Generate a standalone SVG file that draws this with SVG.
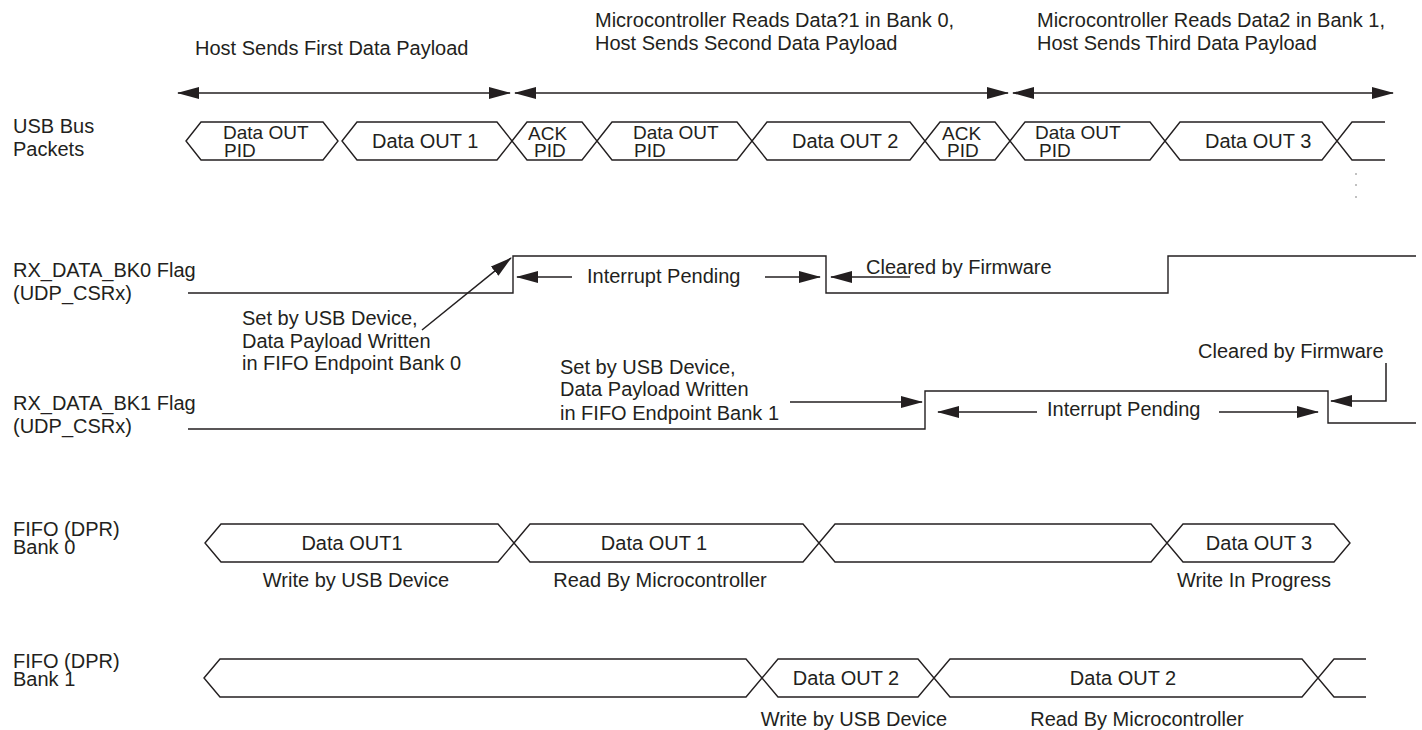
<svg xmlns="http://www.w3.org/2000/svg" width="1422" height="730" viewBox="0 0 1422 730">
<defs>
<style>
text{font-family:"Liberation Sans",Arial,Helvetica,sans-serif;font-size:20px;fill:#231f20}
.s{font-size:19px}
.m{text-anchor:middle}
.bus polygon,.bus polyline,.sig{fill:none;stroke:#231f20;stroke-width:1.4;stroke-linejoin:miter}
.arr{fill:none;stroke:#231f20;stroke-width:1.5}
</style>
<marker id="ah" markerUnits="userSpaceOnUse" markerWidth="22" markerHeight="14" refX="21" refY="7" orient="auto-start-reverse">
<path d="M0,1 L22,7 L0,13 z" fill="#231f20"/>
</marker>
</defs>
<rect width="1422" height="730" fill="#fff"/>

<g id="header">
<text x="195" y="55">Host Sends First Data Payload</text>
<text x="595" y="27">Microcontroller Reads Data?1 in Bank 0,</text>
<text x="595" y="50">Host Sends Second Data Payload</text>
<text x="1037" y="27">Microcontroller Reads Data2 in Bank 1,</text>
<text x="1037" y="50">Host Sends Third Data Payload</text>
</g>

<g id="labels">
<text x="13" y="133">USB Bus</text>
<text x="13" y="156">Packets</text>
<text x="13" y="277">RX_DATA_BK0 Flag</text>
<text x="13" y="300">(UDP_CSRx)</text>
<text x="13" y="410">RX_DATA_BK1 Flag</text>
<text x="13" y="433">(UDP_CSRx)</text>
<text x="13" y="536">FIFO (DPR)</text>
<text x="13" y="554">Bank 0</text>
<text x="13" y="668">FIFO (DPR)</text>
<text x="13" y="686">Bank 1</text>
</g>

<g id="usb-bus" class="bus">
<polygon points="186,141 201,122 323,122 338,141 323,160 201,160"/>
<polygon points="342,141 357,122 497,122 512,141 497,160 357,160"/>
<polygon points="512,141 527,122 582,122 597,141 582,160 527,160"/>
<polygon points="597,141 612,122 737,122 752,141 737,160 612,160"/>
<polygon points="752,141 767,122 910,122 925,141 910,160 767,160"/>
<polygon points="925,141 940,122 995,122 1010,141 995,160 940,160"/>
<polygon points="1010,141 1025,122 1150,122 1165,141 1150,160 1025,160"/>
<polygon points="1165,141 1180,122 1322,122 1337,141 1322,160 1180,160"/>
<polyline points="1385,122 1352,122 1337,141 1352,160 1385,160"/>
<text class="s" x="223" y="139">Data OUT</text>
<text class="s" x="224" y="157">PID</text>
<text x="372" y="148">Data OUT 1</text>
<text class="s" x="528" y="140">ACK</text>
<text class="s" x="534" y="157">PID</text>
<text class="s" x="633" y="139">Data OUT</text>
<text class="s" x="634" y="157">PID</text>
<text x="792" y="148">Data OUT 2</text>
<text class="s" x="942" y="140">ACK</text>
<text class="s" x="947" y="157">PID</text>
<text class="s" x="1035" y="139">Data OUT</text>
<text class="s" x="1039" y="157">PID</text>
<text x="1205" y="148">Data OUT 3</text>
<circle cx="1356" cy="174" r="0.7" fill="#555"/>
<circle cx="1356" cy="185" r="0.7" fill="#555"/>
<circle cx="1356" cy="197" r="0.7" fill="#555"/>
</g>

<g id="rx-data-bk0">
<path class="sig" d="M188,293 H513 V256 H826 V293 H1168 V256 H1416"/>
<text x="587" y="283">Interrupt Pending</text>
<text x="866" y="274">Cleared by Firmware</text>
<text x="242" y="325">Set by USB Device,</text>
<text x="242" y="348">Data Payload Written</text>
<text x="242" y="370">in FIFO Endpoint Bank 0</text>
</g>

<g id="rx-data-bk1">
<path class="sig" d="M188,429 H925 V391 H1328 V423 H1416"/>
<text x="560" y="374">Set by USB Device,</text>
<text x="560" y="396">Data Payload Written</text>
<text x="560" y="420">in FIFO Endpoint Bank 1</text>
<text x="1047" y="416">Interrupt Pending</text>
<text x="1198" y="358">Cleared by Firmware</text>
</g>

<g id="fifo-bank0" class="bus">
<polygon points="205,543 221,524 498,524 514,543 498,562 221,562"/>
<polygon points="514,543 530,524 803,524 819,543 803,562 530,562"/>
<polygon points="819,543 835,524 1151,524 1167,543 1151,562 835,562"/>
<polygon points="1167,543 1183,524 1334,524 1350,543 1334,562 1183,562"/>
<text class="m" x="352" y="550">Data OUT1</text>
<text class="m" x="654" y="550">Data OUT 1</text>
<text class="m" x="1259" y="550">Data OUT 3</text>
<text class="m" x="356" y="587">Write by USB Device</text>
<text class="m" x="660" y="587">Read By Microcontroller</text>
<text class="m" x="1254" y="587">Write In Progress</text>
</g>

<g id="fifo-bank1" class="bus">
<polygon points="204,678 220,659 746,659 762,678 746,697 220,697"/>
<polygon points="762,678 778,659 918,659 934,678 918,697 778,697"/>
<polygon points="934,678 950,659 1302,659 1318,678 1302,697 950,697"/>
<polyline points="1366,659 1334,659 1318,678 1334,697 1366,697"/>
<text class="m" x="846" y="685">Data OUT 2</text>
<text class="m" x="1123" y="685">Data OUT 2</text>
<text class="m" x="854" y="726">Write by USB Device</text>
<text class="m" x="1137" y="726">Read By Microcontroller</text>
</g>

<g id="connectors">
<line class="arr" x1="178" y1="93" x2="510" y2="93" marker-start="url(#ah)" marker-end="url(#ah)"/>
<line class="arr" x1="515" y1="93" x2="1008" y2="93" marker-start="url(#ah)" marker-end="url(#ah)"/>
<line class="arr" x1="1013" y1="93" x2="1393" y2="93" marker-start="url(#ah)" marker-end="url(#ah)"/>
<line class="arr" x1="572" y1="277" x2="517" y2="277" marker-end="url(#ah)"/>
<line class="arr" x1="765" y1="277" x2="820" y2="277" marker-end="url(#ah)"/>
<line class="arr" x1="910" y1="277" x2="831" y2="277" marker-end="url(#ah)"/>
<line class="arr" x1="422" y1="330" x2="511" y2="258" marker-end="url(#ah)"/>
<line class="arr" x1="790" y1="402" x2="922" y2="402" marker-end="url(#ah)"/>
<line class="arr" x1="1037" y1="412" x2="938" y2="412" marker-end="url(#ah)"/>
<line class="arr" x1="1219" y1="412" x2="1318" y2="412" marker-end="url(#ah)"/>
<polyline class="arr" points="1386,363 1386,401 1331,401" marker-end="url(#ah)"/>
</g>
</svg>
